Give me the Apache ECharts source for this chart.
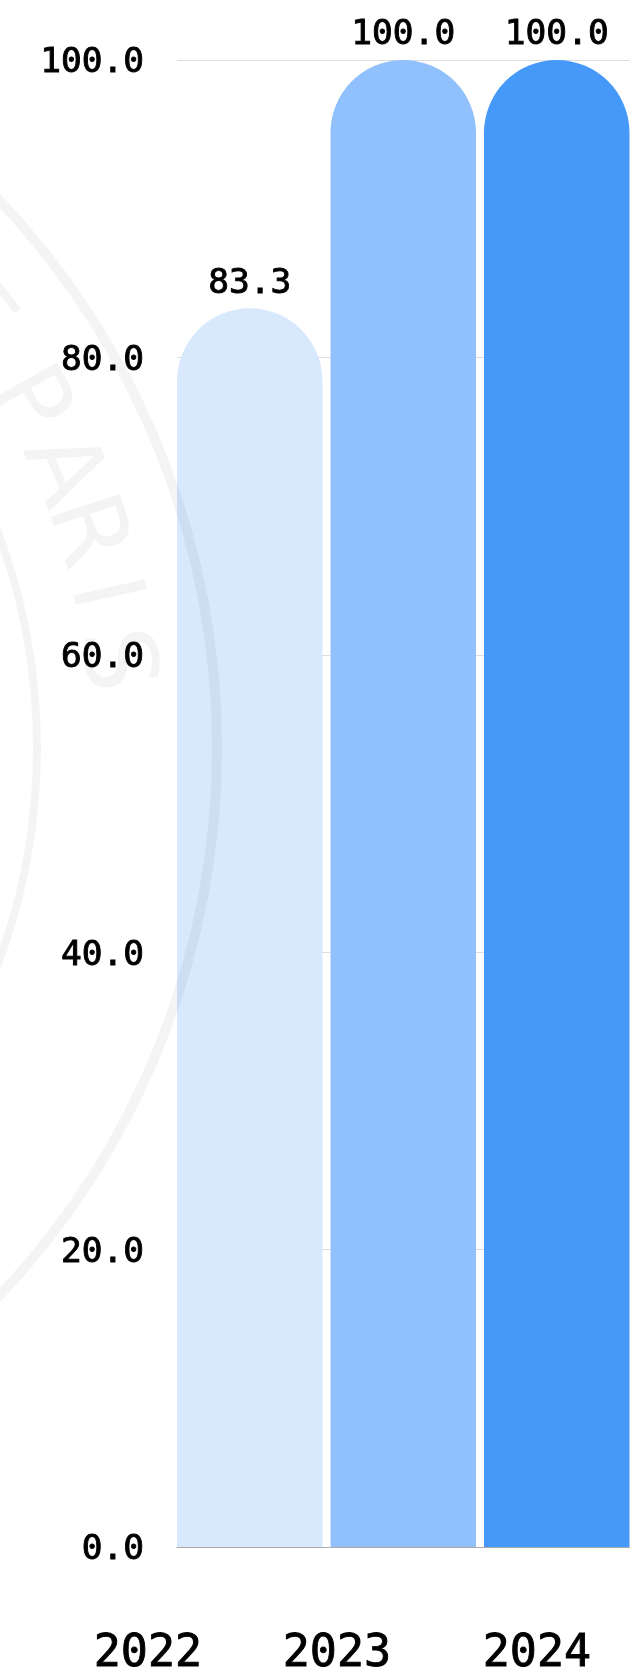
<!DOCTYPE html>
<html><head><meta charset="utf-8">
<style>html,body{margin:0;padding:0;background:#fff}#c{width:634px;height:1676px}</style>
<script src="https://cdn.jsdelivr.net/npm/echarts@6/dist/echarts.min.js"></script>
</head><body><div id="c"></div>
<script>
const years = ['2022','2023','2024'];
const values = [83.3,100,100];
const colors = ['#d8e8fd','#91c1fc','#4799f9'];
const yTicks = [0,20,40,60,80,100];
const legendLeft = [88.7,277.7,477.7];
const stampLetters = ['T','P','A','R','I','S'];
const stampAngles = [38.5,29.6,23.4,18,12.7,7.2];
const stampCx=-581, stampCy=748, stampR=698;
const stampRings=[[798,10],[618,8]];
const FONT='"DejaVu Sans Mono"';
const chart=echarts.init(document.getElementById('c'),null,{renderer:'canvas'});
const ink='rgba(0,0,0,0.045)';
const graphic=[];
stampRings.forEach(([r,w])=>graphic.push({type:'circle',silent:true,z:100,shape:{cx:stampCx,cy:stampCy,r},style:{fill:'none',stroke:ink,lineWidth:w}}));
stampLetters.forEach((t,i)=>{const a=stampAngles[i]*Math.PI/180;
 graphic.push({type:'text',silent:true,z:100,x:stampCx+stampR*Math.cos(a),y:stampCy-stampR*Math.sin(a),rotation:-(Math.PI/2-a),
 style:{text:t,fill:ink,font:'100px "DejaVu Sans"',align:'center',verticalAlign:'middle'}});});
const heavy={textBorderColor:'#000',textBorderWidth:0.9};
chart.setOption({
 animation:false,
 backgroundColor:'#fff',
 graphic,
 legend:years.map((y,i)=>({data:[y],icon:'none',itemWidth:0,itemGap:0,selectedMode:false,left:legendLeft[i],top:1631,padding:0,
   textStyle:Object.assign({color:'#000',fontFamily:FONT,fontSize:45,fontWeight:'normal'},heavy)})),
 grid:{left:177,right:4.5,top:60,bottom:129},
 xAxis:{type:'category',data:[''],axisTick:{show:false},axisLabel:{show:false},axisLine:{show:true,lineStyle:{color:'#aaa',width:1}}},
 yAxis:{type:'value',min:yTicks[0],max:yTicks[yTicks.length-1],interval:20,
   axisLine:{show:false},axisTick:{show:false},
   splitLine:{show:true,lineStyle:{color:'#ddd',width:1}},
   axisLabel:{margin:33,formatter:v=>'{a|'+v.toFixed(1)+'}',
     rich:{a:Object.assign({color:'#000',fontFamily:FONT,fontSize:34.5,padding:[7,0,0,0]},heavy)}}},
 series:years.map((y,i)=>({type:'bar',name:y,data:[values[i]],barGap:'5.5%',barCategoryGap:0,
   itemStyle:{color:colors[i],borderRadius:[73,73,0,0]},
   label:Object.assign({show:true,position:'top',distance:7,color:'#000',fontFamily:FONT,fontSize:34.5,formatter:p=>p.value.toFixed(1)},heavy)}))
});
</script></body></html>
